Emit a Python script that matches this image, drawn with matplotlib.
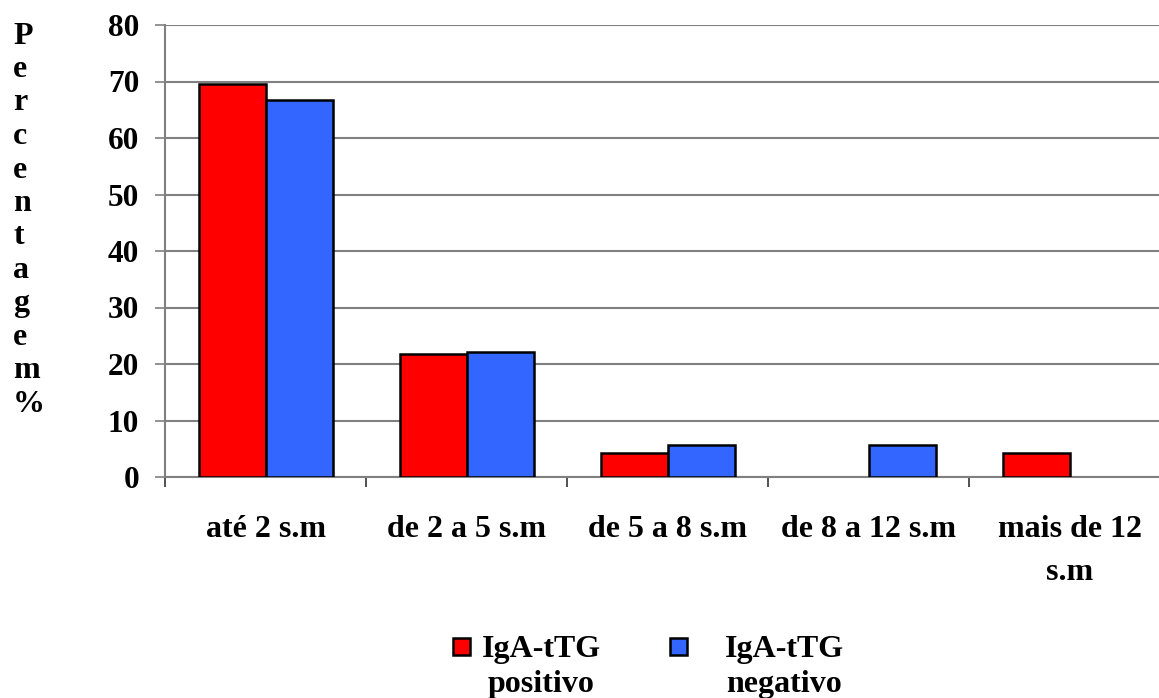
import matplotlib
matplotlib.use("Agg")
import matplotlib.pyplot as plt
from matplotlib.patches import Rectangle
from matplotlib.transforms import blended_transform_factory
import numpy as np

categories = ["até 2 s.m", "de 2 a 5 s.m", "de 5 a 8 s.m", "de 8 a 12 s.m", "mais de 12\ns.m"]
positivo = [69.6, 21.7, 4.3, 0.0, 4.3]
negativo = [66.7, 22.2, 5.6, 5.6, 0.0]
series_labels = ["IgA-tTG\npositivo", "IgA-tTG\nnegativo"]
y_ticks = [0, 10, 20, 30, 40, 50, 60, 70, 80]
ylabel = "Percentagem%"

RED = "#FF0000"
BLUE = "#3366FF"
GRID = "#808080"
FONT = "Liberation Serif"
FS = 23

plt.rcParams["font.family"] = FONT
plt.rcParams["font.weight"] = "bold"

fig = plt.figure(figsize=(11.59, 6.98), dpi=100)
W, H = 1159, 698
ax = fig.add_axes([165 / W, 1 - 477 / H, 1005 / W, 452 / H])

x = np.arange(len(categories))
bw = 1 / 3
for vals, col, off in [(positivo, RED, -bw / 2), (negativo, BLUE, bw / 2)]:
    edges = ["black" if v > 0 else "none" for v in vals]
    ax.bar(x + off, vals, bw, color=col, edgecolor=edges, linewidth=1.8, zorder=3)

ax.set_xlim(-0.5, len(categories) - 0.5)
ax.set_ylim(0, 80)
ax.set_yticks(y_ticks)
ax.set_yticklabels([str(v) for v in y_ticks], fontsize=22.5, fontweight="bold")
ax.yaxis.grid(True, color=GRID, linewidth=1.5, zorder=0)
ax.tick_params(axis="y", length=7.5, width=1.2, color=GRID, pad=11)

# category boundary ticks on x axis
ax.set_xticks(np.arange(len(categories)) - 0.5)
ax.set_xticklabels([])
ax.tick_params(axis="x", length=7.5, width=1.2, color="#333333", direction="out")

# category labels (one text per line, baselines measured in pixels)
tr = blended_transform_factory(ax.transData, fig.transFigure)
for xi, cat in zip(x, categories):
    for k, line in enumerate(cat.split("\n")):
        ax.text(xi, 1 - (537 + 43 * k) / H, line, transform=tr, ha="center",
                va="baseline", fontsize=FS, fontweight="bold", clip_on=False)

for s in ["top", "right"]:
    ax.spines[s].set_visible(False)
ax.spines["left"].set_color(GRID)
ax.spines["left"].set_linewidth(1.5)
ax.spines["bottom"].set_color(GRID)
ax.spines["bottom"].set_linewidth(1.5)

# vertical stacked y label
for i, ch in enumerate(ylabel):
    fig.text(13 / W, 1 - (43.5 + i * 33.5) / H, ch, ha="left", va="baseline",
             fontsize=FS, fontweight="bold")

# manual legend
legend_items = [(RED, 453, 541), (BLUE, 670, 784)]
for (col, sx, tx), lab in zip(legend_items, series_labels):
    fig.patches.append(Rectangle((sx / W, 1 - 655 / H), 17 / W, 17 / H,
                                 transform=fig.transFigure, facecolor=col,
                                 edgecolor="black", linewidth=1.8))
    for k, line in enumerate(lab.split("\n")):
        fig.text(tx / W, 1 - (657 + 35 * k) / H, line, ha="center", va="baseline",
                 fontsize=FS, fontweight="bold")

fig.savefig("out.png", dpi=100)
